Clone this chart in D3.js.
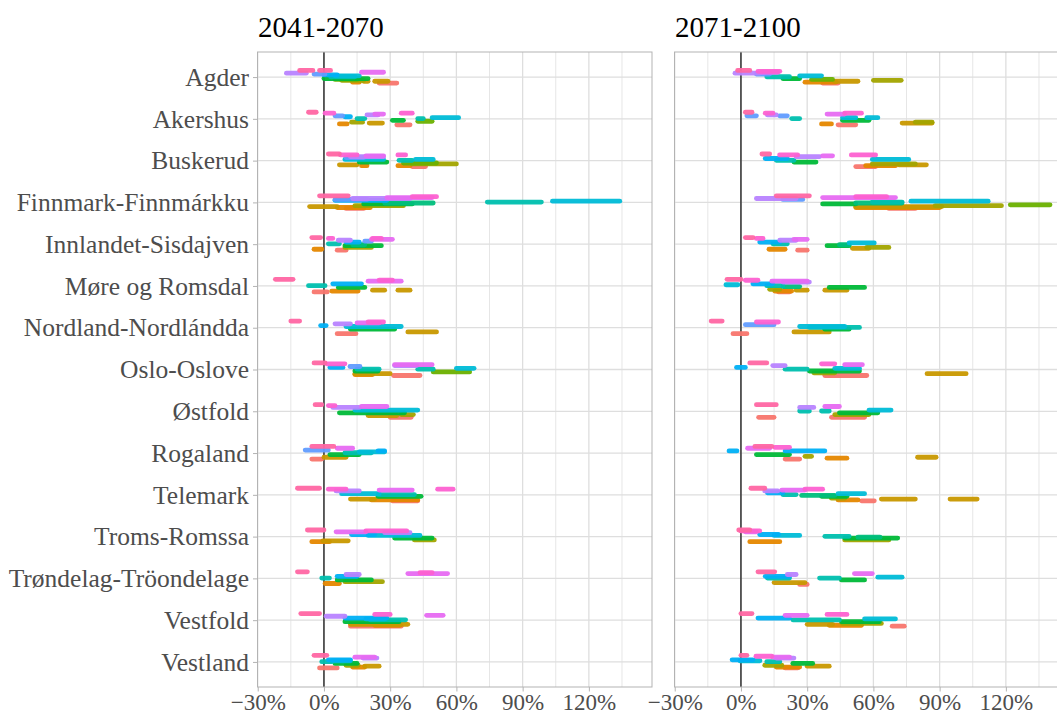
<!DOCTYPE html>
<html>
<head>
<meta charset="utf-8">
<script src="https://cdn.jsdelivr.net/npm/d3@7"></script>
<style>
  html, body { margin: 0; padding: 0; background: #fff; }
  svg { display: block; font-family: "Liberation Serif", "DejaVu Serif", serif; }
</style>
</head>
<body>
<script>
// ---------------- DATA ----------------
const periods = ["2041-2070", "2071-2100"];
const regions = ["Agder", "Akershus", "Buskerud", "Finnmark-Finnmárkku", "Innlandet-Sisdajven",
  "Møre og Romsdal", "Nordland-Nordlándda", "Oslo-Oslove", "Østfold", "Rogaland",
  "Telemark", "Troms-Romssa", "Trøndelag-Tröondelage", "Vestfold", "Vestland"];
const groups = ["M01","M02","M03","M04","M05","M06","M07","M08","M09","M10","M11","M12","M13","M14","M15"];
const xTicks = [-30, 0, 30, 60, 90, 120];
const xTickLabels = ["−30%", "0%", "30%", "60%", "90%", "120%"];

// [region index, group index, low %, high %]
const changes2041 = [
  [0,11,-17,-8],[0,14,-11,-5],[0,10,-4.5,0.5],[0,14,-2,3],[0,9,0,6],[0,8,5,16],[0,7,3,14],[0,4,5,15],
  [0,5,0,20],[0,3,8,18],[0,1,13,16],[0,2,18,20],[0,12,17,27],[0,2,23,29],[0,0,25,33],
  [1,14,-7,-3.5],[1,13,0.5,4.5],[1,10,5,8.5],[1,9,9.5,12],[1,1,7,10.5],[1,3,12.5,17.5],[1,7,15,18.5],
  [1,11,19.5,24.5],[1,12,23,27],[1,2,20.5,26.5],[1,5,31,36],[1,13,35,40],[1,0,33,39],[1,7,42.5,45],
  [1,4,42.5,49],[1,8,49,61],
  [2,14,2,7],[2,13,7.5,15],[2,11,12,27],[2,12,19,27],[2,8,9.5,27],[2,10,10,18],[2,5,16,28.5],[2,2,7,15],
  [2,1,17,19.5],[2,13,33.5,37],[2,7,34,40],[2,8,41.5,49.5],[2,4,36,51],[2,3,40,60],[2,1,33.5,39],[2,0,40,46],
  [3,14,-2,11],[3,13,40,51],[3,12,28.5,49],[3,11,13,39],[3,10,5,19.5],[3,9,5,28.5],[3,6,27.5,49.5],
  [3,5,18,40],[3,3,14,36],[3,2,-6.5,6],[3,1,6,21],[3,0,10,18],[3,7,74,98.5],[3,8,103.5,134],
  [4,14,-5.5,-1.5],[4,13,2,4],[4,11,6.5,12],[4,10,18.5,21.5],[4,12,21.5,31],[4,13,22,26],[4,9,10,16],
  [4,7,2,7],[4,6,13,18.5],[4,5,9.5,26],[4,3,9.5,21.5],[4,1,-4.5,-1],[4,0,6,10],
  [5,14,-22,-14],[5,7,-7,0.5],[5,0,-4.5,1.5],[5,9,4,17],[5,5,6.5,18.5],[5,1,3.5,15.5],[5,12,20,35],
  [5,13,25,31],[5,2,22,27.5],[5,2,33.5,39],
  [6,14,-15,-11],[6,9,-1.5,1],[6,11,5,12],[6,13,20,27],[6,12,15,25],[6,8,10,35],[6,5,12,32],[6,0,6,14.5],[6,2,38,51],
  [7,14,-4.5,0.5],[7,13,1.3,9.5],[7,9,2.7,8.6],[7,10,11.8,16.3],[7,7,15,25],[7,5,14,24.5],[7,2,14,30],
  [7,1,14,22],[7,12,32,49],[7,11,32,42],[7,0,31.5,43.5],[7,7,42.5,49.5],[7,4,49.5,66],[7,8,60,68],
  [8,14,-4,-1],[8,13,2,5],[8,11,4,16],[8,12,17,28.5],[8,8,14,42.5],[8,5,7,36.5],[8,2,20,33],[8,0,30,39.5],[8,3,35,40.5],
  [9,14,-5.5,4.5],[9,10,-8.5,2],[9,12,6,13],[9,8,16,27.5],[9,9,24.5,27.5],[9,7,9.5,21.5],[9,5,2.7,16],
  [9,2,0,10],[9,0,-5.5,-1],
  [10,14,-12,-2],[10,13,2,10],[10,11,5.5,16],[10,12,25,40],[10,13,51.5,58.5],[10,8,8,25],[10,7,24.5,41],
  [10,5,24.5,44],[10,2,12,23],[10,1,21.5,42.5],[10,0,31,42.5],
  [11,14,-7.5,0],[11,12,5.5,19],[11,13,19,37.5],[11,11,27.5,39],[11,9,12.5,23],[11,8,20,43.5],[11,5,32,49],
  [11,3,41,50],[11,2,-0.5,11],[11,1,-5.5,2.5],
  [12,14,-12,-7.5],[12,9,6,15],[12,12,38,56],[12,13,43.5,49],[12,11,10,16],[12,7,-1,2.5],[12,5,6,21.5],
  [12,3,9.5,26.5],[12,1,0.5,7],
  [13,14,-10.5,-2],[13,12,46.5,54],[13,11,1,9.5],[13,13,23,30],[13,9,9.5,28.5],[13,8,19,27.5],[13,7,21,37],
  [13,5,9.5,34],[13,2,12,38],[13,1,23,34.5],[13,0,12,35],
  [14,14,-4.5,1.3],[14,12,14,23],[14,11,17.7,24],[14,9,2,12],[14,8,4,12],[14,7,-1,3.5],[14,5,5,15],
  [14,3,10,15.5],[14,2,18.5,25],[14,1,13,18.5],[14,0,-2,6]
];

const changes2071 = [
  [0,14,-1.5,4],[0,11,-2.7,8.5],[0,13,7.7,17.6],[0,12,9.5,16.7],[0,10,7,13],[0,7,11.7,22],[0,5,19,26.6],
  [0,8,26.6,36.5],[0,4,32,41.5],[0,1,29,43],[0,0,37,44],[0,2,42.5,53],[0,3,60,72.6],
  [1,14,2,5],[1,10,2.7,7],[1,13,11,14.5],[1,11,12,16],[1,10,17.5,21],[1,7,23,26.6],[1,12,39,47],
  [1,13,47,54.6],[1,8,46,52],[1,5,46,58],[1,8,57,62],[1,1,36.5,41],[1,0,44,52],[1,2,73,86.6],[1,3,79,86.6],
  [2,14,9.5,13],[2,13,17.5,25.7],[2,9,11,21],[2,11,25,35.6],[2,12,37,41.5],[2,7,16,24],[2,5,24,34],
  [2,13,50,61],[2,8,59.5,76],[2,3,59.5,79],[2,2,71.5,84],[2,1,56.5,70],[2,0,52,61],
  [3,11,7,25],[3,10,19,28],[3,14,16,31],[3,12,37,70],[3,13,52,66],[3,5,37,52],[3,6,52,73],[3,7,59.5,73],
  [3,8,77,112],[3,1,52,90],[3,2,52,91],[3,0,67,79],[3,3,88,118],[3,4,122,140],
  [4,14,2,5.5],[4,13,7,10],[4,9,8.5,17.6],[4,11,17.6,25],[4,12,24,30],[4,7,14.5,21],[4,1,12.7,20],
  [4,0,25.7,30],[4,5,39,49],[4,6,44.6,49],[4,8,49,60.4],[4,3,57,67],[4,2,50.5,58],
  [5,14,-6.3,0],[5,8,-6.8,-1.4],[5,13,2,7.7],[5,9,5.4,14.4],[5,12,14,30],[5,11,19,31],[5,7,11.7,19],
  [5,6,19,26.6],[5,3,13,17.6],[5,1,15.3,23],[5,0,17,22],[5,2,25,30],[5,2,38,48],[5,5,40,56],
  [6,14,-13.5,-8.5],[6,0,-3.6,2.7],[6,10,2,15],[6,13,7,17],[6,8,26.6,47],[6,7,31,53.7],[6,2,24,40],[6,5,38,49],
  [7,9,-2,2],[7,14,4,11.7],[7,11,14.4,20],[7,7,20,30],[7,13,36.5,42.5],[7,12,47,55],[7,5,31,53.7],
  [7,3,33,42.5],[7,0,38,57],[7,8,42.5,53.7],[7,2,84.3,102],
  [8,14,7,16],[8,0,8,15],[8,11,26.6,33],[8,12,38,44.6],[8,7,26.6,31],[8,7,36.5,40],[8,5,44.6,62],
  [8,8,58,68],[8,0,41,56],[8,3,42.5,58],
  [9,9,-5.4,-1.8],[9,14,6.3,14],[9,13,15.3,22],[9,9,20,38],[9,12,3,13],[9,5,7,22],[9,0,20,26.6],
  [9,3,29,32],[9,1,39,48],[9,2,80,88.4],
  [10,14,4.5,10.8],[10,11,10.8,16.7],[10,9,12,19],[10,12,18.5,29],[10,13,29,37],[10,7,19,25],
  [10,6,27.5,42.5],[10,5,36.5,48],[10,8,44,56],[10,3,41,47],[10,1,44,53],[10,0,54.6,60.4],
  [10,2,63.6,79],[10,2,94.7,107],
  [11,14,-1,4],[11,12,2,7],[11,13,0,8.5],[11,9,8.5,17],[11,8,15,26.6],[11,7,38,49],[11,5,47,71],
  [11,3,47,67],[11,1,4,17.6],[11,6,53,63],
  [12,14,7.7,15.3],[12,12,51.4,59.5],[12,11,21,25],[12,9,11,22],[12,8,62,73],[12,7,35.6,44.6],
  [12,7,12,22],[12,5,45.5,56],[12,2,15,29],[12,0,26.6,30],
  [13,14,0,5],[13,9,7.7,22],[13,12,20,30],[13,13,39,48],[13,8,56,70],[13,7,23.5,44.6],[13,5,45.5,62.7],
  [13,2,30,41.5],[13,1,40,54.6],[13,3,46,63.6],[13,0,68.5,74],
  [14,14,0,2.7],[14,13,6.8,14],[14,12,14.4,22],[14,11,16,24],[14,9,-4,5.4],[14,8,-0.5,8.6],
  [14,7,11.7,17.6],[14,5,23.5,32.5],[14,3,10.8,18.5],[14,1,16,26.6],[14,2,30,40],[14,0,20,25.7]
];
const changesByPeriod = [changes2041, changes2071];

// ---------------- HELPERS ----------------
// R-style hcl() (polar CIE-LUV) to hex, as used by ggplot's hue palette
function hclHex(h, c, l) {
  const hr = h * Math.PI / 180;
  const U = c * Math.cos(hr), V = c * Math.sin(hr);
  const Xn = 95.047, Yn = 100.0, Zn = 108.883;
  const den = Xn + 15 * Yn + 3 * Zn;
  const un = 4 * Xn / den, vn = 9 * Yn / den;
  const Y = l > 8 ? Yn * Math.pow((l + 16) / 116, 3) : Yn * l / 903.3;
  const u = U / (13 * l) + un, v = V / (13 * l) + vn;
  const X = 9 * Y * u / (4 * v);
  const Z = (9 * Y - 15 * v * Y - v * X) / (3 * v);
  const x = X / 100, y = Y / 100, z = Z / 100;
  const lin = [
    3.240479 * x - 1.537150 * y - 0.498535 * z,
    -0.969256 * x + 1.875992 * y + 0.041556 * z,
    0.055648 * x - 0.204043 * y + 1.057311 * z
  ];
  const g = lin.map(t => {
    const s = t <= 0.0031308 ? 12.92 * t : 1.055 * Math.pow(t, 1 / 2.4) - 0.055;
    return Math.round(Math.max(0, Math.min(1, s)) * 255);
  });
  return d3.rgb(g[0], g[1], g[2]).formatHex();
}

// ---------------- LAYOUT ----------------
const W = 1057, H = 718;
const panelTop = 52, panelBottom = 687, panelW = 394.5;
const panelLeft = [257.5, 674.5];

const svg = d3.select("body").append("svg").attr("width", W).attr("height", H);

const y = d3.scalePoint().domain(regions).range([panelTop, panelBottom]).padding(0.6);
const dodge = d3.scalePoint().domain(groups).range([6, -6.6]);
const color = d3.scaleOrdinal().domain(groups)
  .range(groups.map((g, i) => hclHex(15 + 360 / groups.length * i, 100, 65)));

const minorTicks = d3.range(-15, 150, 30);

periods.forEach((period, p) => {
  const x0 = panelLeft[p];
  const x = d3.scaleLinear().domain([-30.1, 148.6]).range([x0, x0 + panelW]);
  const g = svg.append("g");

  const clipId = "clip" + p;
  svg.append("clipPath").attr("id", clipId)
    .append("rect").attr("x", x0).attr("y", panelTop).attr("width", panelW).attr("height", panelBottom - panelTop);

  const inner = g.append("g").attr("clip-path", `url(#${clipId})`);
  inner.append("rect").attr("x", x0).attr("y", panelTop).attr("width", panelW)
    .attr("height", panelBottom - panelTop).attr("fill", "#fff");

  // grid
  inner.selectAll(".minor").data(minorTicks).join("line")
    .attr("x1", d => x(d)).attr("x2", d => x(d))
    .attr("y1", panelTop).attr("y2", panelBottom)
    .attr("stroke", "#e6e6e6").attr("stroke-width", 1);
  inner.selectAll(".major").data(xTicks).join("line")
    .attr("x1", d => x(d)).attr("x2", d => x(d))
    .attr("y1", panelTop).attr("y2", panelBottom)
    .attr("stroke", "#dedede").attr("stroke-width", 1.3);
  inner.selectAll(".hgrid").data(regions).join("line")
    .attr("x1", x0).attr("x2", x0 + panelW)
    .attr("y1", d => y(d)).attr("y2", d => y(d))
    .attr("stroke", "#dedede").attr("stroke-width", 1.3);

  // zero line
  inner.append("line")
    .attr("x1", x(0)).attr("x2", x(0)).attr("y1", panelTop).attr("y2", panelBottom)
    .attr("stroke", "#222").attr("stroke-width", 1.4);

  // ranges
  const rows = changesByPeriod[p].slice().sort((a, b) => a[1] - b[1]);
  inner.selectAll(".seg").data(rows).join("line")
    .attr("x1", d => x(d[2])).attr("x2", d => x(d[3]))
    .attr("y1", d => y(regions[d[0]]) + dodge(groups[d[1]]))
    .attr("y2", d => y(regions[d[0]]) + dodge(groups[d[1]]))
    .attr("stroke", d => color(groups[d[1]]))
    .attr("stroke-width", 4.8)
    .attr("stroke-linecap", "round")
    .attr("opacity", 0.95);

  // border
  g.append("rect").attr("x", x0).attr("y", panelTop).attr("width", panelW)
    .attr("height", panelBottom - panelTop)
    .attr("fill", "none").attr("stroke", "#b3b3b3").attr("stroke-width", 1);

  // x axis
  const xAxis = d3.axisBottom(x).tickValues(xTicks)
    .tickFormat((d, i) => xTickLabels[i]).tickSize(4.5).tickPadding(2);
  const ax = g.append("g").attr("transform", `translate(0,${panelBottom})`).call(xAxis);
  ax.select(".domain").remove();
  ax.selectAll(".tick line").attr("stroke", "#b3b3b3");
  ax.selectAll(".tick text").attr("fill", "#4d4d4d")
    .style("font-family", '"Liberation Serif", serif').style("font-size", "23px")
    .attr("dy", "0.71em");

  // title
  svg.append("text").attr("x", x0 + 0.5).attr("y", 37)
    .attr("fill", "#000").style("font-size", "29px").text(period);

  // y axis (left panel only)
  if (p === 0) {
    const yAxis = d3.axisLeft(y).tickSize(4.5).tickPadding(4);
    const ay = g.append("g").attr("transform", `translate(${x0},0)`).call(yAxis);
    ay.select(".domain").remove();
    ay.selectAll(".tick line").attr("stroke", "#b3b3b3");
    ay.selectAll(".tick text").attr("fill", "#4d4d4d")
      .style("font-family", '"Liberation Serif", serif').style("font-size", "25.5px");
  }
});
</script>
</body>
</html>
